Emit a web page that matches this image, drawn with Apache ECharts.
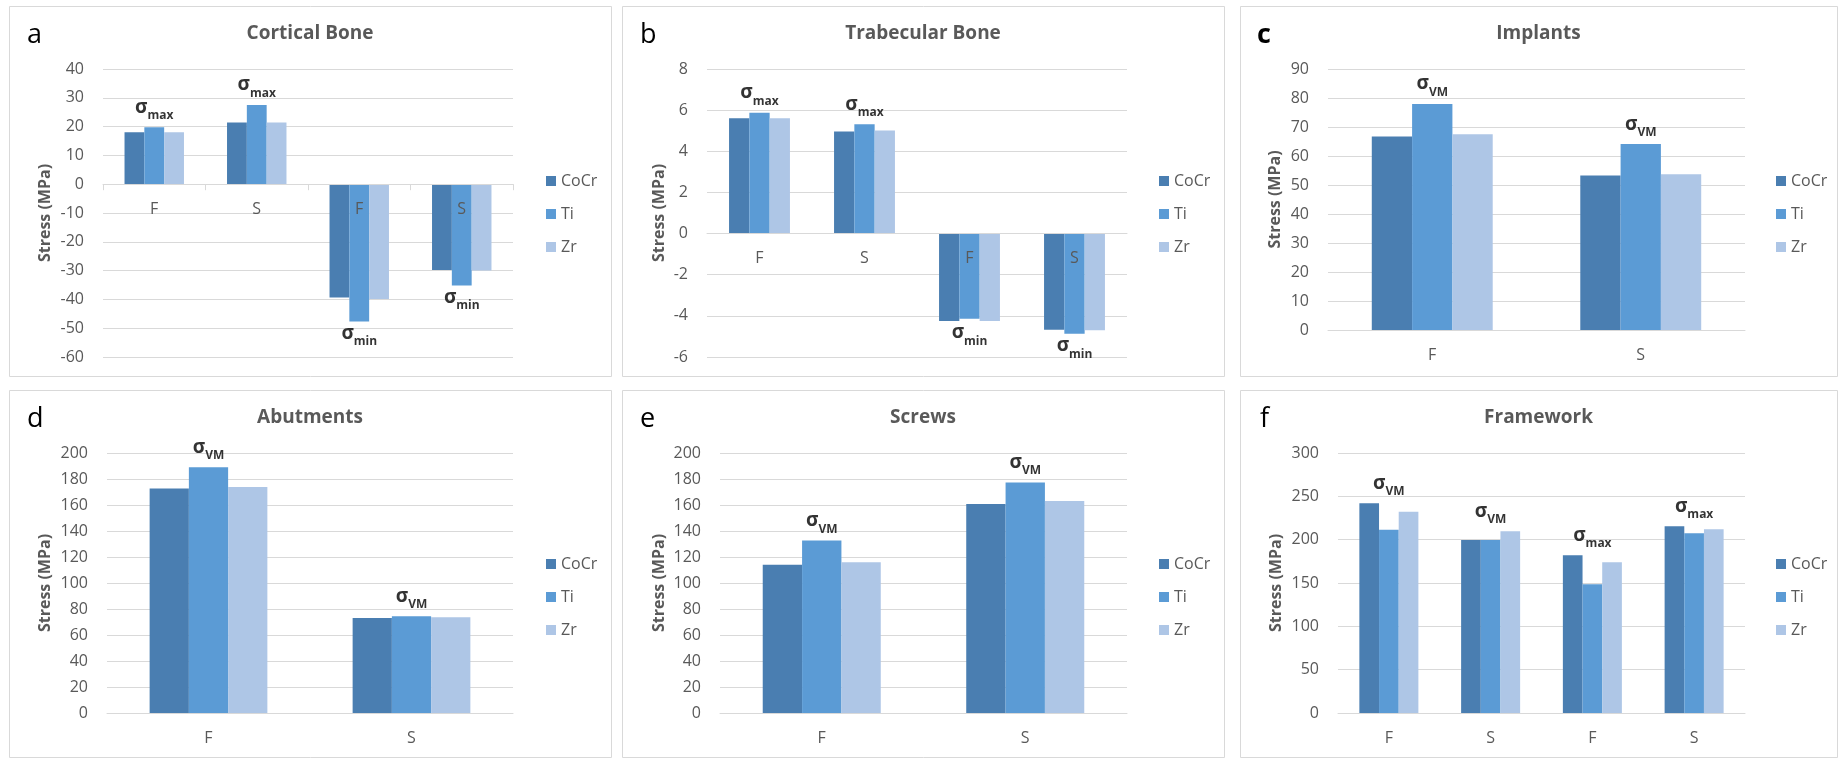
<!DOCTYPE html>
<html>
<head>
<meta charset="utf-8">
<script src="https://cdn.jsdelivr.net/npm/echarts@6/dist/echarts.min.js"></script>
<style>
  html, body { margin: 0; padding: 0; background: #ffffff; }
  #chart { width: 1838px; height: 758px; }
</style>
</head>
<body>
<div id="chart"></div>
<script>
// Materials shown in every panel
const materials = ['CoCr', 'Ti', 'Zr'];

// a – Cortical bone (MPa)
const corticalCats = ['F', 'S', 'F', 'S'];
const corticalCoCr = [18.0, 21.4, -39.3, -29.8];
const corticalTi   = [19.8, 27.5, -47.7, -35.2];
const corticalZr   = [18.0, 21.4, -39.9, -30.0];
const corticalKind = ['max', 'max', 'min', 'min'];
const corticalAxis = [-60, 40, 10];   // min, max, step

// b – Trabecular bone (MPa)
const trabecularCats = ['F', 'S', 'F', 'S'];
const trabecularCoCr = [5.60, 4.96, -4.25, -4.67];
const trabecularTi   = [5.87, 5.32, -4.14, -4.87];
const trabecularZr   = [5.61, 5.01, -4.25, -4.70];
const trabecularKind = ['max', 'max', 'min', 'min'];
const trabecularAxis = [-6, 8, 2];

// c – Implants (MPa)
const implantCats = ['F', 'S'];
const implantCoCr = [66.7, 53.3];
const implantTi   = [77.9, 64.1];
const implantZr   = [67.5, 53.7];
const implantKind = ['VM', 'VM'];
const implantAxis = [0, 90, 10];

// d – Abutments (MPa)
const abutmentCats = ['F', 'S'];
const abutmentCoCr = [172.6, 73.1];
const abutmentTi   = [189.0, 74.4];
const abutmentZr   = [173.8, 73.6];
const abutmentKind = ['VM', 'VM'];
const abutmentAxis = [0, 200, 20];

// e – Screws (MPa)
const screwCats = ['F', 'S'];
const screwCoCr = [114.1, 160.8];
const screwTi   = [132.6, 177.4];
const screwZr   = [115.9, 163.1];
const screwKind = ['VM', 'VM'];
const screwAxis = [0, 200, 20];

// f – Framework (MPa)
const frameworkCats = ['F', 'S', 'F', 'S'];
const frameworkCoCr = [242.0, 199.6, 182.0, 215.4];
const frameworkTi   = [211.5, 199.6, 148.5, 207.3];
const frameworkZr   = [232.3, 209.6, 173.8, 211.9];
const frameworkKind = ['VM', 'VM', 'max', 'max'];
const frameworkAxis = [0, 300, 50];

const barColors = ['#4a7eb1', '#5b9bd5', '#aec6e6'];
const FONT = '"Open Sans", "Noto Sans", sans-serif';
const GREY = '#595959';
const LINE = '#d9d9d9';

const panels = [
  { letter: 'a', title: 'Cortical Bone', cats: corticalCats, values: [corticalCoCr, corticalTi, corticalZr], kinds: corticalKind, axis: corticalAxis,
    box: [9, 6, 602, 370], grid: [103, 69, 410, 288], legend: [541, 168], nameGap: 50, ticks: true, letterX: 27, letterBold: false },
  { letter: 'b', title: 'Trabecular Bone', cats: trabecularCats, values: [trabecularCoCr, trabecularTi, trabecularZr], kinds: trabecularKind, axis: trabecularAxis,
    box: [622, 6, 602, 370], grid: [707, 69, 420, 288], legend: [1154, 168], nameGap: 40, ticks: false, letterX: 640, letterBold: false },
  { letter: 'c', title: 'Implants', cats: implantCats, values: [implantCoCr, implantTi, implantZr], kinds: implantKind, axis: implantAxis,
    box: [1240, 6, 597, 370], grid: [1328, 69, 417, 261], legend: [1771, 168], nameGap: 45, ticks: false, letterX: 1257, letterBold: true },
  { letter: 'd', title: 'Abutments', cats: abutmentCats, values: [abutmentCoCr, abutmentTi, abutmentZr], kinds: abutmentKind, axis: abutmentAxis,
    box: [9, 390, 602, 367], grid: [107, 453, 406, 260], legend: [541, 551], nameGap: 54, ticks: false, letterX: 27, letterBold: false },
  { letter: 'e', title: 'Screws', cats: screwCats, values: [screwCoCr, screwTi, screwZr], kinds: screwKind, axis: screwAxis,
    box: [622, 390, 602, 367], grid: [720, 453, 407, 260], legend: [1154, 551], nameGap: 53, ticks: false, letterX: 640, letterBold: false },
  { letter: 'f', title: 'Framework', cats: frameworkCats, values: [frameworkCoCr, frameworkTi, frameworkZr], kinds: frameworkKind, axis: frameworkAxis,
    box: [1240, 390, 597, 367], grid: [1338, 453, 407, 260], legend: [1771, 551], nameGap: 54, ticks: false, letterX: 1260, letterBold: false }
];

const grids = [], xAxes = [], yAxes = [], series = [], legends = [], graphics = [];

panels.forEach(function (p, i) {
  const [bx, by, bw, bh] = p.box;
  graphics.push({ type: 'rect', silent: true, z: -10,
    shape: { x: bx + 0.5, y: by + 0.5, width: bw, height: bh },
    style: { fill: '#ffffff', stroke: LINE, lineWidth: 1 } });
  graphics.push({ type: 'text', silent: true,
    x: p.letterX, y: by + 29,
    style: { text: p.letter, font: (p.letterBold ? 'bold ' : '') + '27px ' + FONT, fill: '#000000',
      align: 'left', verticalAlign: 'middle', textAlign: 'left', textVerticalAlign: 'middle' } });
  graphics.push({ type: 'text', silent: true,
    x: bx + bw / 2, y: by + 28,
    style: { text: p.title, font: 'bold 19px ' + FONT, fill: GREY,
      align: 'center', verticalAlign: 'middle', textAlign: 'center', textVerticalAlign: 'middle' } });

  const [gl, gt, gw, gh] = p.grid;
  grids.push({ left: gl, top: gt, width: gw, height: gh, containLabel: false });

  const [ymin, ymax, ystep] = p.axis;
  // the category axis (line and labels) sits on the zero value of the stress axis
  const zeroLift = ymin < 0 ? -gh * (0 - ymin) / (ymax - ymin) : 0;

  xAxes.push({
    type: 'category', gridIndex: i, data: p.cats, position: 'bottom', offset: zeroLift,
    z: 6,
    axisLine: { show: true, onZero: false, lineStyle: { color: LINE, width: 1 } },
    axisTick: { show: p.ticks, length: 6, lineStyle: { color: LINE } },
    axisLabel: { margin: 17, fontSize: 16, color: GREY, fontFamily: FONT },
    splitLine: { show: false }
  });

  yAxes.push({
    type: 'value', gridIndex: i, min: ymin, max: ymax, interval: ystep,
    name: 'Stress (MPa)', nameLocation: 'middle', nameGap: p.nameGap,
    nameTextStyle: { fontSize: 16, fontWeight: 'bold', color: GREY, fontFamily: FONT },
    axisLine: { show: false }, axisTick: { show: false },
    axisLabel: { margin: 19, fontSize: 16, color: GREY, fontFamily: FONT },
    splitLine: { show: true, lineStyle: { color: LINE, width: 1 } }
  });

  materials.forEach(function (m, k) {
    series.push({
      type: 'bar', name: m, xAxisIndex: i, yAxisIndex: i,
      data: p.values[k], barGap: '0%', barCategoryGap: '42%',
      itemStyle: { color: barColors[k] }, silent: true, animation: false
    });
  });

  // stress-type annotation above (or below) each group of bars
  const marks = p.cats.map(function (c, j) {
    const group = p.values.map(function (arr) { return arr[j]; });
    const isMin = p.kinds[j] === 'min';
    return {
      value: isMin ? Math.min.apply(null, group) : Math.max.apply(null, group),
      label: { position: isMin ? 'bottom' : 'top', distance: isMin ? 2 : 5 }
    };
  });
  series.push({
    type: 'scatter', name: 'stress-' + p.letter, xAxisIndex: i, yAxisIndex: i,
    data: marks, symbolSize: 1, itemStyle: { color: 'rgba(0,0,0,0)' },
    silent: true, animation: false, z: 5,
    label: {
      show: true,
      formatter: function (q) { return '{s|σ}{t|' + p.kinds[q.dataIndex] + '}'; },
      rich: {
        s: { fontSize: 19, fontWeight: 'bold', color: '#000000', fontFamily: FONT, verticalAlign: 'bottom', padding: [0, 0, 5, 0] },
        t: { fontSize: 12, fontWeight: 'bold', color: '#000000', fontFamily: FONT, verticalAlign: 'bottom' }
      }
    }
  });

  legends.push({
    data: materials, orient: 'vertical', left: p.legend[0], top: p.legend[1],
    itemWidth: 10, itemHeight: 10, itemGap: 17, icon: 'rect',
    textStyle: { fontSize: 16, color: GREY, fontFamily: FONT },
    selectedMode: false
  });
});

const chart = echarts.init(document.getElementById('chart'), null, { renderer: 'canvas' });
chart.setOption({
  backgroundColor: '#ffffff',
  animation: false,
  grid: grids,
  xAxis: xAxes,
  yAxis: yAxes,
  legend: legends,
  graphic: graphics,
  series: series
});
</script>
</body>
</html>
